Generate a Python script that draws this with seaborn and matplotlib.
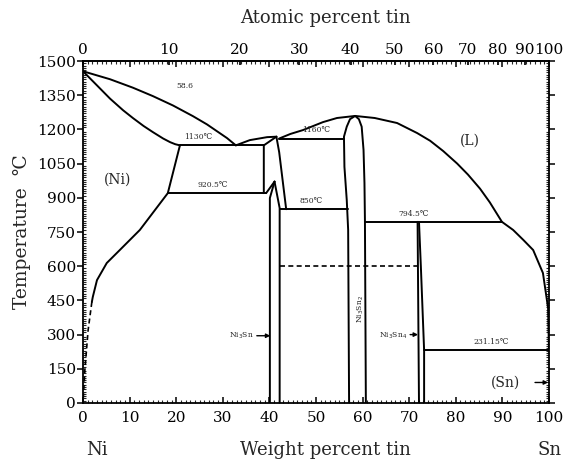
import numpy as np
import pandas as pd
import matplotlib
matplotlib.use("Agg")
import matplotlib.pyplot as plt
import seaborn as sns
from matplotlib.ticker import MultipleLocator

sns.set_theme(style="ticks")
plt.rcParams['font.family'] = ['DejaVu Serif', 'DejaVu Sans', 'Noto Sans CJK SC']

# ---------------- data (wt% Sn, temperature °C) ----------------
liq_ni_x = [0, 5.8, 10.7, 15.0, 19.3, 23.6, 26.6, 30.9, 32.8]
liq_ni_T = [1455, 1420, 1383, 1346, 1305, 1258, 1222, 1162, 1130]
sol_ni_x = [0, 3.0, 5.8, 8.6, 10.7, 13.0, 15.0, 17.2, 18.7, 19.8, 20.8]
sol_ni_T = [1455, 1393, 1335, 1284, 1250, 1215, 1188, 1160, 1144, 1135, 1130]
solv_ni_x = [20.8, 18.2, 12.2, 7.9, 5.1, 3.0, 2.1, 1.9]
solv_ni_T = [1130, 920.5, 759, 671, 614, 539, 465, 443]
solv_ni_dash_x = [1.9, 1.1, 0.4, 0]
solv_ni_dash_T = [443, 320, 145, 0]
eut1130_x = [20.8, 38.8]
eut1130_T = [1130, 1130]
eut920_x = [18.2, 39.3]
eut920_T = [920.5, 920.5]
liq_ni3sn_x = [32.8, 35.8, 39.5, 41.5]
liq_ni3sn_T = [1130, 1153, 1166, 1168]
ht_left_x = [38.8, 38.8, 41.5]
ht_left_T = [920.5, 1130, 1168]
ht_right_x = [41.5, 42.1, 42.7, 43.6]
ht_right_T = [1168, 1100, 1000, 850]
lt_outer_x = [39.3, 41.1]
lt_outer_T = [920.5, 971]
lt_left_x = [41.1, 40.1, 40.1]
lt_left_T = [971, 899, 0]
lt_right_x = [41.1, 42.2, 42.2]
lt_right_T = [971, 855, 0]
eut1160_x = [42.1, 56.0]
eut1160_T = [1160, 1160]
liq_ni3sn2_x = [42.1, 44.5, 47.2, 51.5, 54.5, 58.4]
liq_ni3sn2_T = [1160, 1180, 1197, 1232, 1250, 1259]
ni3sn2_left_x = [58.4, 57.3, 56.6, 56.0, 56.1, 56.6, 56.9, 57.1]
ni3sn2_left_T = [1259, 1245, 1212, 1168, 1036, 890, 759, 0]
ni3sn2_right_x = [58.4, 59.2, 59.8, 60.2, 60.4, 60.5, 60.7]
ni3sn2_right_T = [1259, 1245, 1212, 1110, 965, 803, 0]
eut850_x = [42.2, 56.9]
eut850_T = [850, 850]
liq_sn_x = [58.4, 62.6, 67.4, 71.7, 74.5, 77.3, 80.3, 82.6, 85.2, 87.3,
            89.9, 92.3, 94.5, 96.6, 98.7, 99.8, 100]
liq_sn_T = [1259, 1250, 1228, 1184, 1150, 1105, 1050, 1002, 940, 880,
            794.5, 759, 715, 671, 570, 417, 231]
eut794_x = [60.5, 89.9]
eut794_T = [794.5, 794.5]
ni3sn4_left_x = [71.8, 72.1]
ni3sn4_left_T = [794.5, 0]
ni3sn4_right_x = [72.1, 72.5, 73.2, 73.2]
ni3sn4_right_T = [794.5, 600, 231.15, 0]
eut231_x = [73.2, 100]
eut231_T = [231.15, 231.15]
dash600_x = [42.2, 71.9]
dash600_T = [600, 600]

solid_curves = {
    'liq_ni': (liq_ni_x, liq_ni_T), 'sol_ni': (sol_ni_x, sol_ni_T),
    'solv_ni': (solv_ni_x, solv_ni_T), 'eut1130': (eut1130_x, eut1130_T),
    'eut920': (eut920_x, eut920_T), 'liq_ni3sn': (liq_ni3sn_x, liq_ni3sn_T),
    'ht_left': (ht_left_x, ht_left_T), 'ht_right': (ht_right_x, ht_right_T),
    'lt_outer': (lt_outer_x, lt_outer_T), 'lt_left': (lt_left_x, lt_left_T),
    'lt_right': (lt_right_x, lt_right_T), 'eut1160': (eut1160_x, eut1160_T),
    'liq_ni3sn2': (liq_ni3sn2_x, liq_ni3sn2_T),
    'ni3sn2_left': (ni3sn2_left_x, ni3sn2_left_T),
    'ni3sn2_right': (ni3sn2_right_x, ni3sn2_right_T),
    'eut850': (eut850_x, eut850_T), 'liq_sn': (liq_sn_x, liq_sn_T),
    'eut794': (eut794_x, eut794_T), 'ni3sn4_left': (ni3sn4_left_x, ni3sn4_left_T),
    'ni3sn4_right': (ni3sn4_right_x, ni3sn4_right_T), 'eut231': (eut231_x, eut231_T),
}
dashed_curves = {
    'solv_dash': (solv_ni_dash_x, solv_ni_dash_T),
    'dash600': (dash600_x, dash600_T),
}

def to_df(curves):
    rows = []
    for name, (xs, ts) in curves.items():
        for i, (x, t) in enumerate(zip(xs, ts)):
            rows.append({'curve': name, 'order': i, 'wt': x, 'T': t})
    return pd.DataFrame(rows)

df_solid = to_df(solid_curves)
df_dash = to_df(dashed_curves)

# --------------- figure ---------------
fig = plt.figure(figsize=(5.68, 4.63), dpi=100)
ax = fig.add_axes([83/568, 1-403/463, (549-83)/568, (403-61)/463])

sns.lineplot(data=df_solid, x='wt', y='T', units='curve', estimator=None,
             sort=False, color='black', lw=1.4, ax=ax, legend=False)
sns.lineplot(data=df_dash, x='wt', y='T', units='curve', estimator=None,
             sort=False, color='black', lw=1.2, ax=ax, legend=False,
             linestyle=(0, (3, 2)))

ax.set_xlim(0, 100)
ax.set_ylim(0, 1500)
ax.set_xlabel('')
ax.set_ylabel('')
ax.set_xticks(range(0, 101, 10))
ax.set_yticks(range(0, 1501, 150))
ax.xaxis.set_minor_locator(MultipleLocator(1))
ax.yaxis.set_minor_locator(MultipleLocator(10))
for s in ax.spines.values():
    s.set_linewidth(1.3)
    s.set_color('black')
ax.tick_params(axis='both', which='major', labelsize=11, colors='black',
               width=1.1)
ax.tick_params(axis='y', which='major', direction='out', length=4, pad=1)
ax.tick_params(axis='x', which='major', direction='in', length=4, pad=6,
               top=True)
ax.tick_params(axis='y', which='major', right=True)
ax.tick_params(which='minor', direction='in', length=2, width=0.8,
               top=True, right=True)

# top axis in atomic percent
M_SN, M_NI = 118.71, 58.69
def wt2at(w):
    w = np.clip(np.asarray(w, dtype=float), 0, 100)
    a = w / M_SN
    b = (100 - w) / M_NI
    return 100 * a / np.where(a + b == 0, 1, a + b)
def at2wt(x):
    x = np.clip(np.asarray(x, dtype=float), 0, 100)
    a = x * M_SN
    b = (100 - x) * M_NI
    return 100 * a / np.where(a + b == 0, 1, a + b)
top = ax.secondary_xaxis('top', functions=(wt2at, at2wt))
top.set_xticks(range(0, 101, 10))
top.tick_params(direction='in', length=3, labelsize=11, pad=3, colors='black')
top.spines['top'].set_linewidth(1.3)

# --------------- labels ---------------
fig.text(325/568, 1-18/463, 'Atomic percent tin', ha='center', va='center',
         fontsize=13)
fig.text(325/568, 1-450/463, 'Weight percent tin', ha='center', va='center',
         fontsize=13)
fig.text(97/568, 1-450/463, 'Ni', ha='center', va='center', fontsize=13)
fig.text(550/568, 1-450/463, 'Sn', ha='center', va='center', fontsize=13)
fig.text(22/568, 1-232/463, 'Temperature  ℃', ha='center', va='center',
         fontsize=13.5, rotation=90)

small = 5.5
ax.text(21.9, 1390, '58.6', fontsize=small, ha='center', va='center')
ax.text(24.7, 1150, '1130℃', fontsize=small, ha='center', va='bottom')
ax.text(27.9, 940, '920.5℃', fontsize=small, ha='center', va='bottom')
ax.text(50.0, 1178, '1160℃', fontsize=small, ha='center', va='bottom')
ax.text(49.0, 868, '850℃', fontsize=small, ha='center', va='bottom')
ax.text(71.0, 812, '794.5℃', fontsize=small, ha='center', va='bottom')
ax.text(87.6, 250, '231.15℃', fontsize=small, ha='center', va='bottom')
ax.text(7.5, 978, '(Ni)', fontsize=10, ha='center', va='center')
ax.text(83.0, 1150, '(L)', fontsize=10, ha='center', va='center')
ax.text(90.6, 88, '(Sn)', fontsize=10, ha='center', va='center')
ax.text(59.6, 410, 'Ni$_3$Sn$_2$', fontsize=small, ha='center', va='center',
        rotation=90)
ax.text(36.7, 295, 'Ni$_3$Sn', fontsize=small, ha='right', va='center')
ax.text(69.5, 293, 'Ni$_3$Sn$_4$', fontsize=small, ha='right', va='center')

arrow = dict(arrowstyle='-|>', color='black', lw=1.0, mutation_scale=6,
             shrinkA=0, shrinkB=0)
ax.annotate('', xy=(40.2, 295), xytext=(37.3, 295), arrowprops=arrow)
ax.annotate('', xy=(71.9, 300), xytext=(70.2, 300), arrowprops=arrow)
ax.annotate('', xy=(99.8, 90), xytext=(97.0, 90), arrowprops=arrow)

fig.savefig('out.png', dpi=100)
